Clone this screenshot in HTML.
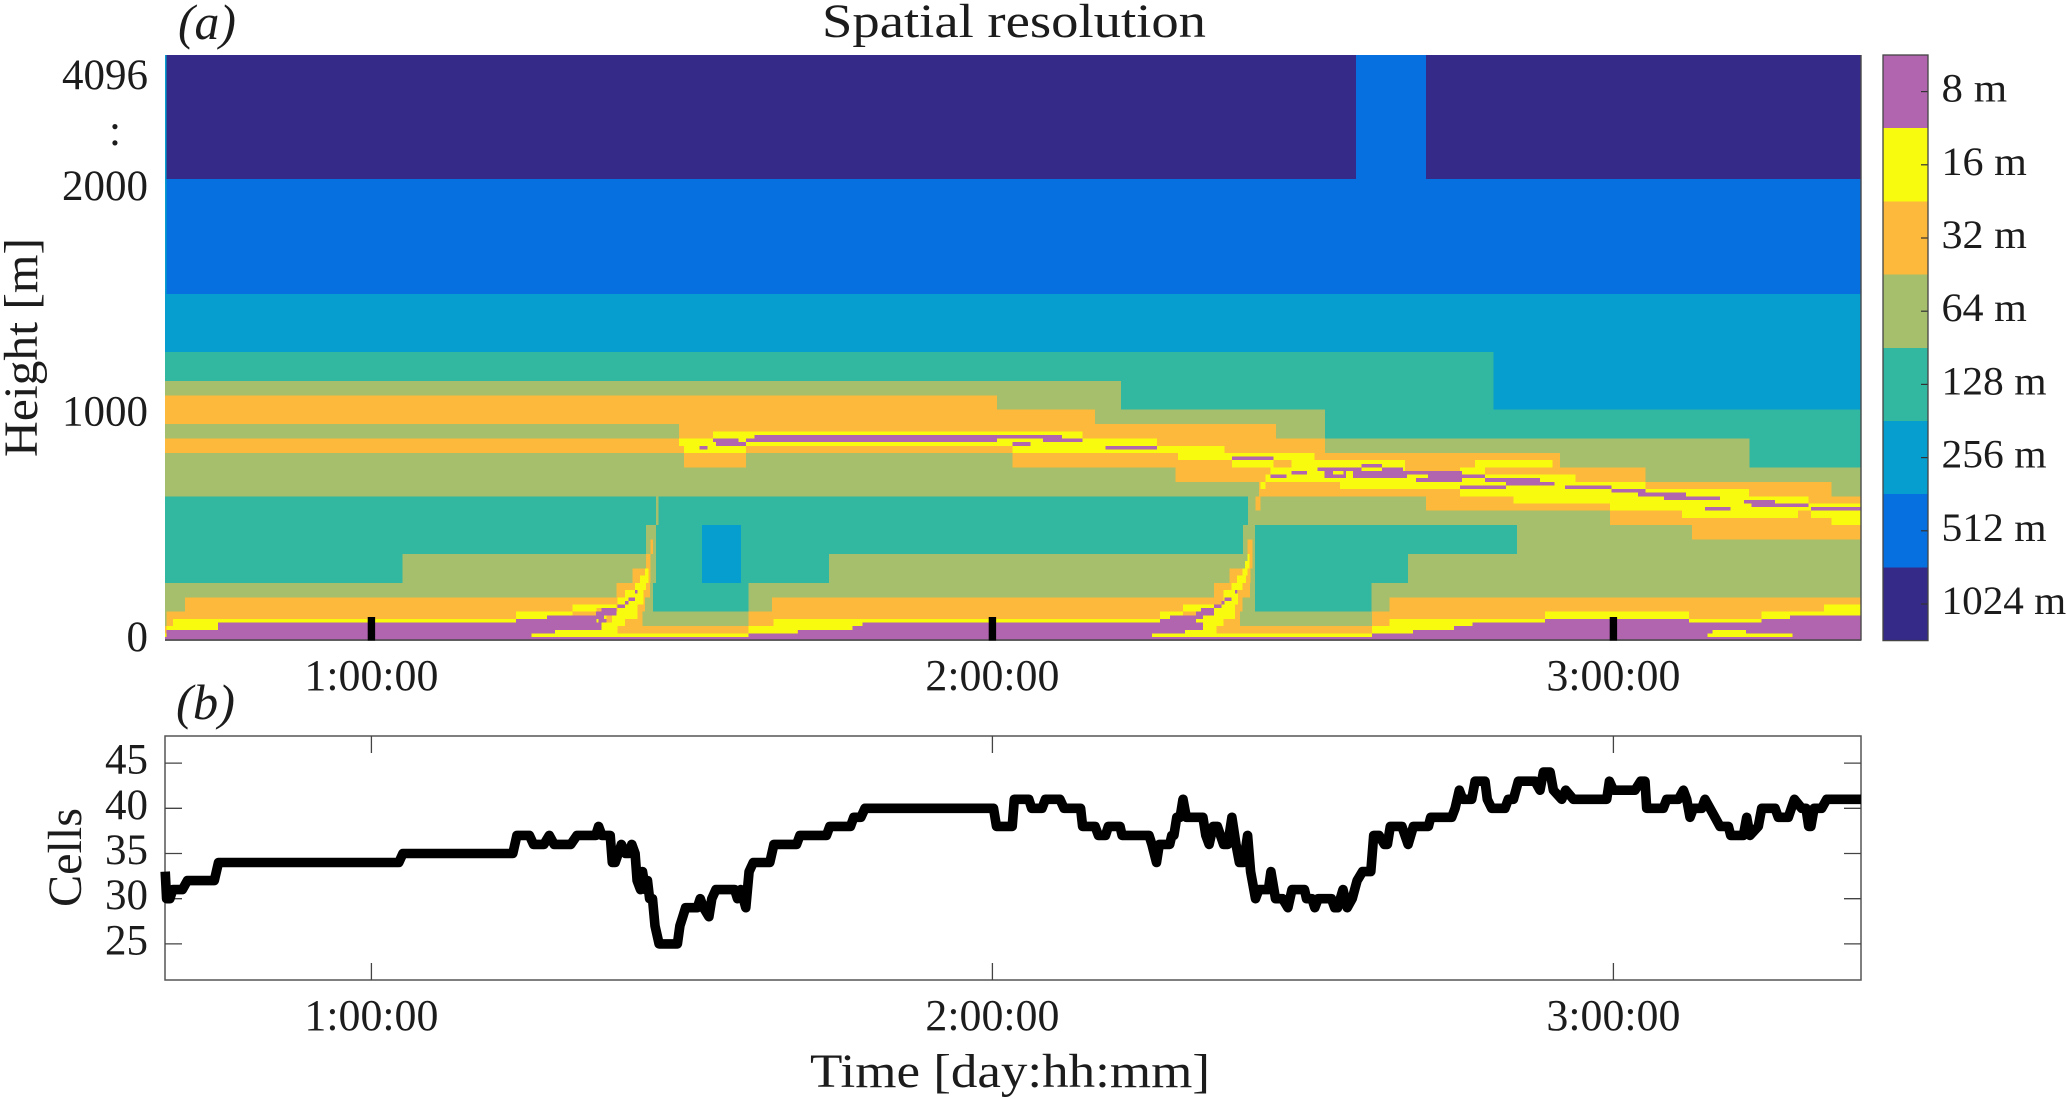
<!DOCTYPE html>
<html lang="en">
<head>
<meta charset="utf-8">
<title>Spatial resolution</title>
<style>
html,body{margin:0;padding:0;background:#fff;width:2067px;height:1099px;overflow:hidden}
svg{display:block}
text{font-family:"Liberation Serif",serif;fill:#1c1c1c}
</style>
</head>
<body>
<svg id="chart" xmlns="http://www.w3.org/2000/svg" width="2067" height="1099" viewBox="0 0 2067 1099">
  <rect x="0" y="0" width="2067" height="1099" fill="#fff"/>
  <g id="heatmap" shape-rendering="crispEdges"></g>
  <g id="panelAAxes"></g>
  <g id="colorbar"></g>
  <g id="panelBAxes"></g>
  <path id="cellsLine" fill="none" stroke="#000" stroke-width="9.6" stroke-linejoin="round" stroke-linecap="butt"/>
  <text x="178" y="39" font-size="50" font-style="italic" textLength="58" lengthAdjust="spacingAndGlyphs">(a)</text>
  <text x="822" y="37" font-size="48" textLength="384" lengthAdjust="spacingAndGlyphs">Spatial resolution</text>
  <text transform="translate(37,457) rotate(-90)" font-size="48" textLength="219" lengthAdjust="spacingAndGlyphs">Height [m]</text>
  <text x="176" y="719" font-size="50" font-style="italic" textLength="59" lengthAdjust="spacingAndGlyphs">(b)</text>
  <text transform="translate(81,907) rotate(-90)" font-size="48" textLength="99" lengthAdjust="spacingAndGlyphs">Cells</text>
  <text x="810" y="1087" font-size="48" textLength="400" lengthAdjust="spacingAndGlyphs">Time [day:hh:mm]</text>
</svg>
<script>
// ---------- shared axis limits (days, metres, cells) ----------
const timeMin = 0.6676;
const timeMax = 3.3987;
const timeTicks = [1, 2, 3];
const timeTickLabels = ['1:00:00', '2:00:00', '3:00:00'];
const heightTickValues = [0, 1000, 2000, 3707];
const heightTickLabels = ['0', '1000', '2000', '4096'];
const heightEllipsisValue = 2781;
const cellsMin = 21;
const cellsMax = 48;
const cellsTicks = [25, 30, 35, 40, 45];
const levelNames = ['8 m', '16 m', '32 m', '64 m', '128 m', '256 m', '512 m', '1024 m'];

// ---------- heatmap regions: [start day, end day, lower height, upper height] ----------
const X0 = timeMin, X1 = timeMax;
const cells1024 = [[X0,X1,2048,4096]];
const cells512 = [[X0,X1,1536,2048],[2.5855,2.6982,2048,4096]];
const cells256 = [[X0,X1,1280,1536],[2.8071,X1,1024,1280],[X0,0.6700,1280,4096]];
const cells128 = [[X0,2.8071,0,1280],[2.8071,X1,0,1024]];
const cells256Patch = [[1.5327,1.5955,256,512]];
const cells64 = [
  [X0,2.2071,640,1152],[2.2071,2.5356,640,1024],[2.5356,3.2192,640,896],[3.2192,X1,640,768],
  [1.4583,1.4623,512,640],[X0,1.0501,0,256],[1.0501,1.4535,0,384],[1.4422,1.4535,0,512],
  [1.4535,1.4583,256,512],[1.4535,1.6076,0,128],[1.6076,1.7369,0,256],[1.7369,2.4036,0,384],
  [2.4036,2.4229,0,512],[2.4116,2.8448,512,640],[2.8448,X1,0,640],[2.6692,2.8448,0,384],
  [2.6105,2.6692,0,256],[2.4196,2.6105,0,128]
];
const cells32 = [
  [X0,1.4953,832,896],[X0,1.4953,960,1088],[1.4953,1.5034,832,1088],[1.5034,1.6032,768,1088],
  [1.6032,2.0074,832,1088],[2.0074,2.0325,832,1024],[2.0325,2.1652,768,1024],[2.1652,2.2948,768,960],
  [2.2948,2.4293,704,960],[2.4293,2.4567,640,960],[2.4567,2.5356,640,896],[2.5356,2.6982,640,832],
  [2.6982,2.9140,576,832],[2.9140,2.9945,576,768],[2.9945,3.0517,512,768],[3.0517,3.1262,512,704],
  [3.1262,3.3512,448,704],[3.3512,X1,448,640],[2.4237,2.4317,576,640],
  [X0,1.6076,0,64],[0.6702,1.4369,64,128],[0.6998,1.4406,128,192],[1.3950,1.4486,192,256],
  [1.4208,1.4498,256,320],[1.4422,1.4498,320,384],[1.4498,1.4535,384,448],[1.6076,2.6113,0,64],
  [1.6076,2.3987,64,128],[1.6451,2.4031,128,192],[2.3568,2.4148,192,256],[2.3815,2.4159,256,320],
  [2.4111,2.4192,320,448],[2.6113,X1,0,128],[2.6396,X1,128,192]
];
const cells16 = [
  [1.4953,1.5034,864,896],[1.5034,1.5501,832,896],[1.5501,1.6032,832,928],[1.6032,2.0325,864,928],
  [2.0325,2.1452,832,928],[2.1452,2.2651,832,896],[2.2651,2.2989,832,864],[2.2989,2.3737,800,864],
  [2.3737,2.3858,800,832],[2.3858,2.4527,768,832],[2.4527,2.4816,800,832],[2.4816,2.5190,768,832],
  [2.4317,2.4398,672,704],[2.4398,2.4478,704,736],[2.4478,2.5356,704,768],[2.5190,2.5598,704,800],
  [2.5598,2.6644,672,800],[2.6644,2.7530,672,752],[2.7530,2.7771,640,768],[2.7771,2.7932,640,800],
  [2.7932,2.8390,640,736],[2.7932,2.9019,768,800],[2.8390,2.9391,608,736],[2.9391,2.9945,608,704],
  [2.9945,3.0517,576,704],[3.0517,3.1105,576,672],[3.1105,3.2184,544,672],[3.2184,3.2973,544,640],
  [3.2973,3.3140,576,640],[3.3140,3.3182,576,608],[3.3182,3.3512,544,608],[3.3512,X1,512,608],
  [X0,0.6702,16,32],[0.6702,0.6802,48,64],[0.6802,0.7530,48,96],[0.7530,1.2329,80,96],
  [1.2329,1.2828,96,128],[1.2828,1.3242,112,128],[1.3242,1.3628,128,160],[1.3628,1.3950,144,160],
  [1.3874,1.3960,32,128],[1.3960,1.4084,64,192],[1.4084,1.4282,96,224],[1.4245,1.4378,160,256],
  [1.4325,1.4422,224,288],[1.4406,1.4459,256,320],
  [1.6076,1.6472,32,64],[1.6472,1.6858,32,96],[1.6858,1.7749,48,96],[1.7749,1.7908,64,96],
  [1.7908,2.2696,80,96],[2.2696,2.2860,96,128],[2.2860,2.3069,112,128],[2.3069,2.3568,128,160],
  [2.3557,2.3718,64,160],[2.3718,2.3906,96,224],[2.3850,2.3958,160,256],[2.3941,2.4031,224,288],
  [2.4031,2.4085,256,320],[2.4069,2.4106,288,352],[2.4106,2.4138,320,384],
  [2.6113,2.6396,32,64],[2.6396,2.6770,32,96],[2.6770,2.7433,48,96],[2.7433,2.7731,64,96],
  [2.7731,2.8899,80,96],[2.8899,3.1217,96,128],[3.1217,3.2388,80,96],[3.2388,3.2844,96,128],
  [3.2844,3.3391,112,128],[3.3391,X1,112,160]
];
const cells8 = [
  [X0,X1,0,16],[1.5282,1.5414,848,864],[1.5501,1.5915,880,896],[1.5549,1.6032,864,880],
  [1.6032,1.6169,880,896],[1.6169,2.0074,880,912],[2.0074,2.1121,896,912],[2.0815,2.1452,880,896],
  [2.0325,2.0612,864,880],[2.1821,2.2651,848,864],[2.3858,2.4527,800,816],[2.4478,2.4736,720,736],
  [2.4816,2.5066,736,752],[2.5237,2.5942,752,768],[2.5346,2.5694,720,752],[2.5807,2.6676,720,752],
  [2.5942,2.6274,768,784],[2.6274,2.6612,752,768],[2.6676,2.7562,736,752],[2.6821,2.7530,704,720],
  [2.7014,2.7562,704,736],[2.7562,2.7932,720,736],[2.7932,2.8818,704,720],[2.8271,2.9053,688,704],
  [2.7530,2.8271,672,688],[2.9221,2.9968,672,688],[2.9968,3.0517,656,672],[3.0396,3.0815,640,656],
  [3.0815,3.1169,624,656],[3.1169,3.1717,624,640],[3.1475,3.1886,576,592],[3.2103,3.2602,608,624],
  [3.2225,3.3140,592,608],[3.3182,X1,576,592],
  [0.6702,0.7530,0,48],[0.7530,1.2329,0,80],[1.2329,1.2828,0,96],[1.2828,1.3617,0,112],
  [1.3617,1.3709,0,128],[1.3709,1.3789,80,144],[1.3789,1.3950,112,144],[1.3960,1.4084,144,160],
  [1.4084,1.4137,160,176],[1.4137,1.4245,176,192],[1.4245,1.4282,208,224],
  [1.6076,1.6870,0,32],[1.6870,1.7749,0,48],[1.7749,1.7908,0,64],[1.7908,2.2696,0,80],
  [2.2696,2.2860,0,96],[2.2860,2.3279,0,112],[2.3279,2.3391,48,128],[2.3359,2.3568,112,144],
  [2.3568,2.3692,144,160],[2.3692,2.3737,160,176],[2.3737,2.3850,176,192],[2.3906,2.3943,208,224],
  [2.6113,2.6770,0,32],[2.6770,2.7433,0,48],[2.7433,2.7731,0,64],[2.7731,2.8899,0,80],
  [2.8899,3.1217,0,96],[3.1217,3.2388,0,80],[3.2388,3.2844,0,96],[3.2844,X1,0,112]
];
const cells16Over = [
  [1.2576,1.2957,16,32],[1.2957,1.3746,16,48],[1.3746,1.3950,16,64],[1.3950,1.6076,16,32],
  [1.3709,1.3874,32,80],[1.3628,1.3654,80,96],[1.3746,1.3789,96,112],
  [2.2570,2.3101,16,32],[2.3101,2.3407,16,48],[2.3407,2.3610,16,64],[2.3610,2.6113,16,32],
  [2.3391,2.3568,48,112],[2.3279,2.3391,80,96],[2.5482,2.5651,736,752],
  [3.1514,3.1594,16,32],[3.1594,3.2135,16,48],[3.2135,3.2882,16,32]
];

// ---------- cells-per-column time series ----------
const cellTimes = [
  0.668,0.6702,0.6755,0.6802,0.6956,0.7036,0.7470,0.7537,1.0441,1.0507,1.2277,1.2343,1.2544,1.2610,1.2777,1.2864,1.2944,1.3211,1.3311,1.3612,
  1.3659,1.3712,1.3845,1.3879,1.3926,1.4026,1.4093,1.4146,1.4193,1.4246,1.4279,1.4333,1.4366,1.4413,1.4446,1.4479,1.4526,1.4566,1.4633,1.4927,
  1.4967,1.5014,1.5060,1.5247,1.5294,1.5347,1.5434,1.5481,1.5548,1.5848,1.5895,1.5948,1.6028,1.6082,1.6149,1.6416,1.6482,1.6749,1.6847,1.6900,
  1.7328,1.7381,1.7715,1.7768,1.7882,1.7949,2.0018,2.0065,2.0319,2.0352,2.0586,2.0632,2.0799,2.0853,2.1086,2.1153,2.1420,2.1453,2.1654,2.1707,
  2.1821,2.1867,2.2054,2.2088,2.2522,2.2568,2.2642,2.2688,2.2855,2.2889,2.2922,2.2969,2.3022,2.3069,2.3122,2.3390,2.3436,2.3490,2.3556,2.3623,
  2.3723,2.3790,2.3857,2.3923,2.3977,2.4044,2.4110,2.4157,2.4237,2.4291,2.4444,2.4484,2.4558,2.4671,2.4758,2.4825,2.5025,2.5058,2.5145,2.5192,
  2.5246,2.5459,2.5512,2.5559,2.5646,2.5713,2.5793,2.5873,2.5960,2.6093,2.6140,2.6227,2.6313,2.6360,2.6407,2.6594,2.6694,2.6779,2.7020,2.7058,
  2.7396,2.7450,2.7519,2.7573,2.7718,2.7772,2.7933,2.7970,2.8040,2.8255,2.8308,2.8389,2.8470,2.8738,2.8818,2.8872,2.8980,2.9033,2.9167,2.9232,
  2.9355,2.9892,2.9935,3.0000,3.0348,3.0440,3.0509,3.0536,3.0804,3.0858,3.1046,3.1127,3.1180,3.1234,3.1288,3.1422,3.1475,3.1556,3.1636,3.1717,
  3.1851,3.1889,3.2093,3.2146,3.2200,3.2334,3.2388,3.2603,3.2656,3.2817,3.2914,3.3032,3.3102,3.3145,3.3180,3.3231,3.3354,3.3435,3.3987
];
const cellValues = [
  33,30,30,31,31,32,32,34,34,35,35,37,37,36,36,37,36,36,37,37,
  38,37,37,34,34,36,35,35,36,35,32,31,33,31,32,30,30,27,25,25,
  27,28,29,29,30,29,28,30,31,31,30,31,29,33,34,34,36,36,36,37,
  37,38,38,39,39,40,40,38,38,41,41,40,40,41,41,40,40,38,38,37,
  37,38,38,37,37,36,34,36,36,37,37,39,39,41,39,39,37,36,38,38,
  36,36,39,36,34,34,37,33,30,31,31,33,30,30,29,31,31,30,30,29,
  30,30,29,29,31,29,30,32,33,33,37,37,36,36,38,38,36,38,38,39,
  39,40,42,41,41,43,43,41,40,40,41,41,43,43,42,44,44,42,41,42,
  41,41,43,42,42,43,43,40,40,41,41,42,41,39,40,40,41,40,39,38,
  38,37,37,39,37,38,40,40,39,39,41,40,40,38,38,40,40,41,41
];

// ---------- styling of the eight resolution levels (index matches levelNames) ----------
const levelColors = ['#B065AE', '#F9FB0E', '#FCB93C', '#A6BF6C', '#32B7A0', '#069DCF', '#0770E0', '#352A87'];
const heatLayers = [
  [cells1024, 7], [cells512, 6], [cells256, 5], [cells128, 4], [cells256Patch, 5],
  [cells64, 3], [cells32, 2], [cells16, 1], [cells8, 0], [cells16Over, 1]
];

// ---------- layout and axis functions ----------
const plotLeft = 165, plotRight = 1861;
const aTop = 55, aBottom = 640.6;
const bTop = 736, bBottom = 980;
const barLeft = 1883, barRight = 1928;
const NS = 'http://www.w3.org/2000/svg';

function xScale(t) { return plotLeft + (t - timeMin) / (timeMax - timeMin) * (plotRight - plotLeft); }
function heightScale(h) {
  if (h <= 2048) return aBottom - h * 0.2255;
  return 178.8 - (h - 2048) * (123.8 / 2048);
}
function cellsScale(v) { return bBottom - (v - cellsMin) / (cellsMax - cellsMin) * (bBottom - bTop); }

function make(parent, tag, attrs, content) {
  const el = document.createElementNS(NS, tag);
  for (const key in attrs) el.setAttribute(key, attrs[key]);
  if (content !== undefined) el.textContent = content;
  parent.appendChild(el);
  return el;
}

// ---------- heatmap ----------
const heatmap = document.getElementById('heatmap');
heatLayers.forEach(function (layer) {
  const color = levelColors[layer[1]];
  layer[0].forEach(function (cell) {
    const x0 = xScale(cell[0]), x1 = xScale(cell[1]);
    const y0 = heightScale(cell[3]), y1 = heightScale(cell[2]);
    const el = make(heatmap, 'rect', { x: x0, y: y0, width: Math.max(0.5, x1 - x0), height: y1 - y0, fill: color });
    
    
  });
});

// ---------- panel (a) axes ----------
const aAxes = document.getElementById('panelAAxes');
const aBottomLine = make(aAxes, 'line', { x1: plotLeft, x2: plotRight, y1: aBottom - 0.5, y2: aBottom - 0.5, stroke: '#4a4a4a', 'stroke-width': 1.6 });


const aRightLine = make(aAxes, 'line', { x1: plotRight, x2: plotRight, y1: aTop, y2: aBottom, stroke: '#4a4a4a', 'stroke-width': 1.4 });


timeTicks.forEach(function (t, i) {
  const tick = make(aAxes, 'rect', { x: xScale(t) - 3.7, y: 617, width: 7.4, height: aBottom - 617, fill: '#000' });
  
  
  const label = make(aAxes, 'text', { x: xScale(t), y: 690, 'font-size': 44, 'text-anchor': 'middle', textLength: 134, lengthAdjust: 'spacingAndGlyphs' }, timeTickLabels[i]);
  
  
});
heightTickValues.forEach(function (h, i) {
  const label = make(aAxes, 'text', { x: 148, y: heightScale(h) + 10.5, 'font-size': 43, 'text-anchor': 'end' }, heightTickLabels[i]);
  
  
});
const ellipsis = make(aAxes, 'text', { x: 115, y: heightScale(heightEllipsisValue) + 10.5, 'font-size': 44, 'text-anchor': 'middle' }, ':');



// ---------- colour bar ----------
const colorbar = document.getElementById('colorbar');
const barStep = (aBottom - aTop) / levelNames.length;
levelNames.forEach(function (name, i) {
  const y0 = aTop + i * barStep;
  const seg = make(colorbar, 'rect', { x: barLeft, y: y0, width: barRight - barLeft, height: barStep, fill: levelColors[i], 'shape-rendering': 'crispEdges' });
  
  
  const tick = make(colorbar, 'line', { x1: barRight - 7, x2: barRight, y1: y0 + barStep / 2, y2: y0 + barStep / 2, stroke: '#333', 'stroke-width': 1.2 });
  
  
  const labelWidth = ((name.length - 2) * 0.5 + 1.166) * 39.4;
  const label = make(colorbar, 'text', { x: 1941.5, y: y0 + barStep / 2 + 10, 'font-size': 40, textLength: labelWidth, lengthAdjust: 'spacingAndGlyphs' }, name);
  
  
});
const barFrame = make(colorbar, 'rect', { x: barLeft, y: aTop, width: barRight - barLeft, height: aBottom - aTop, fill: 'none', stroke: '#444', 'stroke-width': 1.3 });



// ---------- panel (b) axes ----------
const bAxes = document.getElementById('panelBAxes');
const bFrame = make(bAxes, 'rect', { x: plotLeft, y: bTop, width: plotRight - plotLeft, height: bBottom - bTop, fill: 'none', stroke: '#555', 'stroke-width': 1.5 });


timeTicks.forEach(function (t, i) {
  const x = xScale(t);
  const tickTop = make(bAxes, 'line', { x1: x, x2: x, y1: bTop, y2: bTop + 17, stroke: '#444', 'stroke-width': 1.3 });
  
  
  const tickBottom = make(bAxes, 'line', { x1: x, x2: x, y1: bBottom - 17, y2: bBottom, stroke: '#444', 'stroke-width': 1.3 });
  
  
  const label = make(bAxes, 'text', { x: x, y: 1030, 'font-size': 44, 'text-anchor': 'middle', textLength: 134, lengthAdjust: 'spacingAndGlyphs' }, timeTickLabels[i]);
  
  
});
cellsTicks.forEach(function (v) {
  const y = cellsScale(v);
  const tickLeft = make(bAxes, 'line', { x1: plotLeft, x2: plotLeft + 17, y1: y, y2: y, stroke: '#444', 'stroke-width': 1.3 });
  
  
  const tickRight = make(bAxes, 'line', { x1: plotRight - 17, x2: plotRight, y1: y, y2: y, stroke: '#444', 'stroke-width': 1.3 });
  
  
  const label = make(bAxes, 'text', { x: 148, y: y + 10.5, 'font-size': 43, 'text-anchor': 'end' }, String(v));
  
  
});

// ---------- cells line ----------
let cellsPath = '';
cellTimes.forEach(function (t, i) {
  cellsPath += (i ? 'L' : 'M') + xScale(t).toFixed(1) + ' ' + cellsScale(cellValues[i]).toFixed(1);
});
document.getElementById('cellsLine').setAttribute('d', cellsPath);
</script>
</body>
</html>
